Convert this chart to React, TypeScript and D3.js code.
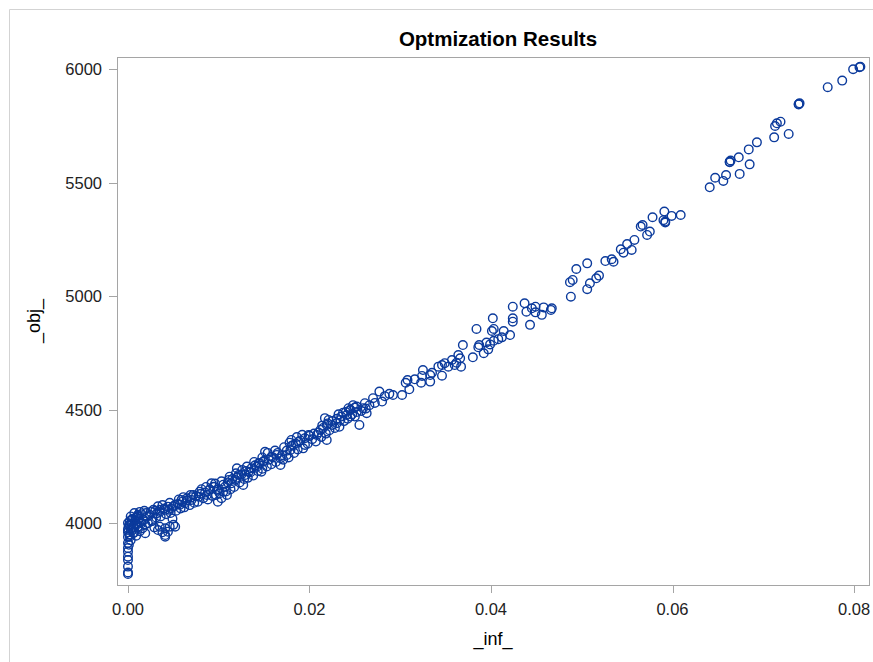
import React from "react";
import * as d3 from "d3";

// [_inf_, _obj_] pairs, grouped by region
const zeroColumn: [number, number][] = [
  [0.0, 4001], [0.0, 3970], [0.0, 3940], [0.0, 3913], [0.0, 3891], [0.0, 3875],
  [0.0, 3853], [0.0, 3838], [0.0, 3809], [0.0, 3777], [0.0, 3783], [0.0, 3960],
  [0.0001, 3905], [0.0003, 3925], [0.0002, 3950], [0.00003, 3978], [0.0002, 3993],
  [0.0002, 3941], [0.0006, 3956], [0.0001, 3990], [0.0002, 4010], [0.0004, 3998],
  [0.0006, 3985], [0.0005, 3970], [0.0008, 4012], [0.001, 3995], [0.0012, 4020],
  [0.0015, 4000], [0.0016, 3978], [0.0011, 3985], [0.0009, 4025], [0.0004, 4015],
  [0.0003, 4030], [0.0007, 4045], [0.0013, 4050], [0.0018, 4055], [0.0022, 4000],
  [0.0026, 4010], [0.0019, 3995], [0.0007, 3960], [0.0013, 3965], [0.0003, 3975],
  [0.0009, 3945], [0.0014, 4005],
];

const lowBand: [number, number][] = [
  [0.0008, 4000], [0.0011, 4007], [0.0011, 4032], [0.0011, 4037], [0.0017, 4015],
  [0.0021, 4029], [0.0024, 4037], [0.0028, 4059], [0.0032, 4044], [0.0035, 4059],
  [0.0041, 4059], [0.0044, 4073], [0.0048, 4066], [0.0052, 4081], [0.0057, 4081],
  [0.0059, 4103], [0.0063, 4088], [0.0065, 4110], [0.007, 4103], [0.0072, 4125],
  [0.0078, 4117], [0.0079, 4139], [0.0087, 4125], [0.009, 4147], [0.0092, 4176],
  [0.0094, 4161], [0.0098, 4147], [0.0101, 4132], [0.0105, 4139], [0.0107, 4161],
  [0.0109, 4125], [0.0111, 4191], [0.0114, 4176], [0.0118, 4191], [0.0127, 4169],
  [0.0122, 4213], [0.012, 4242], [0.0129, 4213], [0.0133, 4227], [0.0136, 4242],
  [0.0142, 4249], [0.0144, 4264], [0.0147, 4227], [0.0149, 4271], [0.0151, 4315],
  [0.0158, 4293], [0.0164, 4301], [0.0168, 4286], [0.0168, 4257], [0.0175, 4301],
  [0.0179, 4323], [0.018, 4367], [0.0182, 4345], [0.0188, 4359], [0.0195, 4345],
  [0.0199, 4389], [0.0208, 4389], [0.0212, 4411], [0.0217, 4463], [0.0219, 4433],
  [0.0219, 4367], [0.0005, 4020], [0.001, 4030], [0.0015, 4040], [0.002, 4045],
  [0.0025, 4050], [0.003, 4055], [0.0035, 4050], [0.004, 4065], [0.0045, 4060],
  [0.005, 4075], [0.0055, 4085], [0.006, 4095], [0.0065, 4100], [0.007, 4115],
  [0.0075, 4120], [0.008, 4130], [0.0085, 4135], [0.009, 4150], [0.0095, 4160],
  [0.01, 4150], [0.0105, 4170], [0.011, 4180], [0.0115, 4195], [0.012, 4200],
  [0.0125, 4215], [0.013, 4230], [0.0135, 4225], [0.014, 4255], [0.0145, 4265],
  [0.015, 4275], [0.0155, 4280], [0.016, 4290], [0.0165, 4310], [0.017, 4300],
  [0.0175, 4320], [0.018, 4340], [0.0185, 4350], [0.019, 4365], [0.0195, 4375],
  [0.02, 4385], [0.0205, 4395], [0.021, 4400],
  [0.0031, 4025], [0.0036, 4030], [0.0042, 4040], [0.0047, 4045], [0.0053, 4055],
  [0.0058, 4065], [0.0062, 4070], [0.0068, 4080], [0.0033, 4075], [0.0038, 4080],
  [0.0046, 4090], [0.0056, 4105], [0.0061, 4115], [0.0069, 4125], [0.0049, 4020],
  [0.0027, 4010], [0.0073, 4090], [0.0077, 4095], [0.0083, 4110], [0.0088, 4105],
  [0.0093, 4120], [0.0097, 4125], [0.0103, 4110], [0.0108, 4140], [0.0113, 4150],
  [0.0117, 4160], [0.0081, 4150], [0.0086, 4160], [0.0096, 4175], [0.0103, 4185],
  [0.0112, 4205], [0.0119, 4220], [0.0099, 4095], [0.0123, 4180], [0.0128, 4195],
  [0.0132, 4200], [0.0138, 4210], [0.0143, 4230], [0.0148, 4240], [0.0153, 4250],
  [0.0158, 4260], [0.0163, 4270], [0.0171, 4280], [0.0177, 4290], [0.0183, 4310],
  [0.0187, 4325], [0.0193, 4330], [0.0198, 4350], [0.0126, 4235], [0.0131, 4250],
  [0.0139, 4270], [0.0148, 4290], [0.0154, 4310], [0.0162, 4320], [0.0172, 4335],
  [0.0178, 4355], [0.0186, 4380], [0.0192, 4390], [0.0203, 4370], [0.0207, 4360],
];

// the loose cluster sitting under the band near 0.004
const lowOutliers: [number, number][] = [
  [0.0019, 3956], [0.005, 3993], [0.0046, 3985], [0.0041, 3978], [0.0035, 3985],
  [0.0033, 3970], [0.0041, 3948], [0.0044, 3963], [0.0052, 3985], [0.0011, 3985],
  [0.0041, 3941], [0.0029, 3982], [0.0038, 3960],
];

const midBand: [number, number][] = [
  [0.0215, 4420], [0.022, 4440], [0.0225, 4450], [0.023, 4460], [0.0235, 4470],
  [0.024, 4490], [0.0245, 4500], [0.025, 4510], [0.0243, 4507], [0.0245, 4470],
  [0.0225, 4433], [0.023, 4441], [0.0234, 4455], [0.0237, 4487], [0.0241, 4477],
  [0.0245, 4499], [0.025, 4470], [0.0255, 4433], [0.0252, 4514], [0.0263, 4485],
  [0.0259, 4507], [0.0261, 4529], [0.027, 4551], [0.028, 4536], [0.0277, 4580],
  [0.0292, 4565], [0.0302, 4565], [0.031, 4590], [0.0306, 4619], [0.0308, 4631],
  [0.0316, 4634], [0.0323, 4619], [0.0324, 4649], [0.0325, 4675], [0.0333, 4624],
  [0.0333, 4653], [0.0335, 4663], [0.0346, 4650], [0.0342, 4690], [0.0346, 4697],
  [0.0349, 4705], [0.0353, 4690], [0.0357, 4719], [0.036, 4697], [0.0362, 4707],
  [0.0367, 4690], [0.0366, 4727], [0.0364, 4741], [0.0369, 4785], [0.038, 4731],
  [0.0386, 4775], [0.0387, 4785], [0.0392, 4749], [0.0395, 4796], [0.0397, 4766],
  [0.0399, 4788], [0.0403, 4804], [0.0408, 4811], [0.0412, 4819], [0.0421, 4829],
  [0.0414, 4847], [0.0401, 4847], [0.0403, 4856], [0.0384, 4856], [0.0402, 4903],
  [0.0424, 4888], [0.0424, 4903], [0.0443, 4874], [0.0424, 4954], [0.0437, 4969],
  [0.0439, 4932], [0.0445, 4947], [0.0449, 4929], [0.0449, 4954], [0.0456, 4918],
  [0.0458, 4951], [0.0466, 4940], [0.0467, 4947],
  [0.0213, 4380], [0.0218, 4395], [0.0222, 4410], [0.0228, 4420], [0.0233, 4425],
  [0.0238, 4450], [0.0242, 4460], [0.0247, 4480], [0.0252, 4490], [0.0257, 4495],
  [0.0262, 4505], [0.0214, 4430], [0.0221, 4455], [0.0232, 4480], [0.0248, 4520],
  [0.0266, 4520], [0.0272, 4530], [0.0283, 4560], [0.0288, 4570],
];

const upperBand: [number, number][] = [
  [0.0488, 4998], [0.0487, 5062], [0.049, 5072], [0.0494, 5120], [0.0506, 5031],
  [0.0506, 5145], [0.0509, 5057], [0.0516, 5079], [0.0519, 5091], [0.0526, 5155],
  [0.0533, 5163], [0.0535, 5152], [0.0543, 5207], [0.0546, 5192], [0.055, 5230],
  [0.0555, 5204], [0.0558, 5248], [0.0565, 5307], [0.0567, 5314], [0.0572, 5270],
  [0.0575, 5285], [0.0578, 5348], [0.059, 5335], [0.0592, 5329], [0.0592, 5325],
  [0.0591, 5373], [0.0599, 5354], [0.0609, 5358],
];

const topBand: [number, number][] = [
  [0.0641, 5480], [0.0647, 5522], [0.0656, 5508], [0.0659, 5534], [0.0674, 5539],
  [0.0685, 5581], [0.0663, 5593], [0.0664, 5598], [0.0663, 5590], [0.0673, 5612],
  [0.0684, 5647], [0.0693, 5678], [0.0712, 5700], [0.0728, 5715], [0.0713, 5750],
  [0.0715, 5762], [0.0719, 5769], [0.0739, 5847], [0.074, 5850], [0.0739, 5845],
  [0.0771, 5921], [0.0787, 5950], [0.0799, 6000], [0.0806, 6009], [0.0807, 6011],
];

const xTicks = [0, 0.02, 0.04, 0.06, 0.08];
const yTicks = [4000, 4500, 5000, 5500, 6000];

const W = 873;
const H = 662;
const plot = { left: 117, right: 869, top: 57, bottom: 585 };
const font = "'Liberation Sans', Arial, sans-serif";

const App = () => {
  const x = d3.scaleLinear().domain([-0.00121, 0.08165]).range([plot.left, plot.right]);
  const y = d3.scaleLinear().domain([3728, 6054]).range([plot.bottom, plot.top]);
  const fmt = d3.format(".2f");
  const points = [...zeroColumn, ...lowBand, ...lowOutliers, ...midBand, ...upperBand, ...topBand];

  return (
    <svg
      width={W}
      height={H}
      style={{ position: "absolute", left: 0, top: 0, background: "#fff" }}
      fontFamily={font}
    >
      {/* outer graph border */}
      <line x1={9.5} x2={W} y1={9.5} y2={9.5} stroke="#d3d3d3" />
      <line x1={9.5} x2={9.5} y1={9.5} y2={H} stroke="#d3d3d3" />

      <text x={498} y={46} textAnchor="middle" fontSize={20.5} fontWeight="bold" fill="#000">
        Optmization Results
      </text>

      <g>
        {points.map((d, i) => (
          <circle
            key={i}
            cx={x(d[0])}
            cy={y(d[1])}
            r={4.3}
            fill="none"
            stroke="#0b3a9c"
            strokeWidth={1.4}
          />
        ))}
      </g>

      <rect
        x={plot.left + 0.5}
        y={plot.top + 0.5}
        width={plot.right - plot.left}
        height={plot.bottom - plot.top}
        fill="none"
        stroke="#a5a5a5"
      />

      {xTicks.map(t => (
        <g key={t}>
          <line
            x1={Math.round(x(t)) + 0.5}
            x2={Math.round(x(t)) + 0.5}
            y1={plot.bottom + 1}
            y2={plot.bottom + 8}
            stroke="#a5a5a5"
          />
          <text x={x(t)} y={615} textAnchor="middle" fontSize={16.5} fill="#222">
            {fmt(t)}
          </text>
        </g>
      ))}

      {yTicks.map(t => (
        <g key={t}>
          <line
            x1={plot.left - 8}
            x2={plot.left}
            y1={Math.round(y(t)) + 0.5}
            y2={Math.round(y(t)) + 0.5}
            stroke="#a5a5a5"
          />
          <text x={102} y={y(t) + 6} textAnchor="end" fontSize={16.5} fill="#222">
            {t}
          </text>
        </g>
      ))}

      <text x={493} y={645} textAnchor="middle" fontSize={18} fill="#000">
        _inf_
      </text>
      <text
        transform={`translate(40, 321) rotate(-90)`}
        textAnchor="middle"
        fontSize={18}
        fill="#000"
      >
        _obj_
      </text>
    </svg>
  );
};

export default App;
